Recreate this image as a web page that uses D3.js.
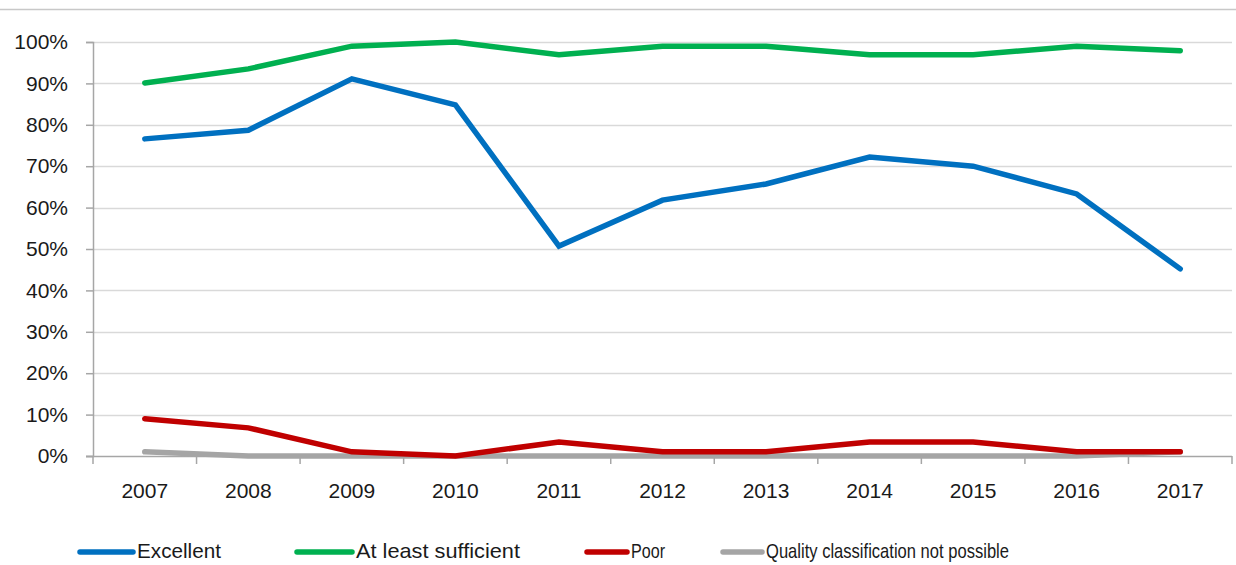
<!DOCTYPE html>
<html>
<head>
<meta charset="utf-8">
<script src="https://cdn.jsdelivr.net/npm/d3@7"></script>
<style>
  body { margin: 0; background: #fff; }
  svg { display: block; font-family: "Liberation Sans", Arial, sans-serif; }
</style>
</head>
<body>
<script>
// data
const years = ["2007", "2008", "2009", "2010", "2011", "2012", "2013", "2014", "2015", "2016", "2017"];
const excellent = [76.6, 78.7, 91.1, 84.8, 50.7, 61.8, 65.7, 72.2, 70.0, 63.3, 45.2];
const sufficient = [90.1, 93.5, 99.0, 100, 96.9, 99.0, 99.0, 96.9, 96.9, 99.0, 97.9];
const poor = [9.0, 6.8, 1.0, 0, 3.4, 1.0, 1.0, 3.4, 3.4, 1.0, 1.0];
const notPossible = [1.0, 0, 0, 0, 0, 0, 0, 0, 0, 0, 1.0];
const seriesNames = ["Excellent", "At least sufficient", "Poor", "Quality classification not possible"];
const seriesColors = ["#0070c0", "#00b050", "#c00000", "#a5a5a5"];
const yTicks = [0, 10, 20, 30, 40, 50, 60, 70, 80, 90, 100];

const series = [excellent, sufficient, poor, notPossible].map((values, i) => ({
  name: seriesNames[i], values: values, color: seriesColors[i]
}));

const width = 1236, height = 565;
const margin = { left: 93, right: 4, top: 42, bottom: 109 };

const svg = d3.select("body").append("svg")
  .attr("width", width)
  .attr("height", height);

// thin frame line at top (the chart is cropped there)
svg.append("line")
  .attr("x1", 0).attr("x2", width)
  .attr("y1", 9.5).attr("y2", 9.5)
  .attr("stroke", "#c8c8c8").attr("stroke-width", 1.5);

const x = d3.scaleBand()
  .domain(years)
  .range([margin.left, width - margin.right]);

const y = d3.scaleLinear()
  .domain([0, 100])
  .range([height - margin.bottom, margin.top]);

// gridlines
svg.append("g")
  .selectAll("line")
  .data(yTicks.filter(d => d > 0))
  .join("line")
  .attr("x1", margin.left).attr("x2", width - margin.right)
  .attr("y1", d => Math.round(y(d)) + 0.5).attr("y2", d => Math.round(y(d)) + 0.5)
  .attr("stroke", "#d9d9d9").attr("stroke-width", 1.5);

// y axis
const yAxis = svg.append("g")
  .attr("transform", `translate(${margin.left},0)`)
  .call(d3.axisLeft(y).tickValues(yTicks).tickFormat(d => d + "%").tickSize(7).tickPadding(18));
yAxis.select(".domain").attr("stroke", "#a6a6a6").attr("stroke-width", 1.5);
yAxis.selectAll(".tick line").attr("stroke", "#a6a6a6").attr("stroke-width", 1.5);
yAxis.selectAll(".tick text").attr("font-size", 21).attr("fill", "#1a1a1a")
  .attr("font-family", "Liberation Sans, Arial, sans-serif");

// x axis
const xAxis = svg.append("g")
  .attr("transform", `translate(0,${Math.round(y(0)) + 0.5})`)
  .call(d3.axisBottom(x).tickSize(0).tickPadding(27));
xAxis.select(".domain").attr("stroke", "#a6a6a6").attr("stroke-width", 1.5)
  .attr("d", `M${margin.left - 7},0H${width - margin.right}`);
xAxis.selectAll(".tick text").attr("font-size", 21).attr("fill", "#1a1a1a")
  .attr("font-family", "Liberation Sans, Arial, sans-serif");

// x tick marks at category boundaries
svg.append("g")
  .selectAll("line")
  .data(d3.range(years.length + 1))
  .join("line")
  .attr("x1", i => margin.left + i * x.step())
  .attr("x2", i => margin.left + i * x.step())
  .attr("y1", y(0)).attr("y2", y(0) + 8)
  .attr("stroke", "#a6a6a6").attr("stroke-width", 1.5);

// lines
const line = d3.line()
  .x((d, i) => x(years[i]) + x.bandwidth() / 2)
  .y(d => y(d));

svg.append("g")
  .selectAll("path")
  .data(series.slice().reverse())
  .join("path")
  .attr("d", d => line(d.values))
  .attr("fill", "none")
  .attr("stroke", d => d.color)
  .attr("stroke-width", 5.5)
  .attr("stroke-linecap", "round")
  .attr("stroke-linejoin", "miter");

// legend (Excel-style, line swatch then label)
const legendPos = [
  { lx: 80, lw: 53, tw: 84 },
  { lx: 297, lw: 55, tw: 164 },
  { lx: 587, lw: 40, tw: 34 },
  { lx: 723, lw: 39, tw: 243 }
];

const item = svg.append("g")
  .selectAll("g")
  .data(series)
  .join("g");

item.append("line")
  .attr("x1", (d, i) => legendPos[i].lx)
  .attr("x2", (d, i) => legendPos[i].lx + legendPos[i].lw)
  .attr("y1", 552).attr("y2", 552)
  .attr("stroke", d => d.color)
  .attr("stroke-width", 5.5)
  .attr("stroke-linecap", "round");

item.append("text")
  .attr("x", (d, i) => legendPos[i].lx + legendPos[i].lw + 4)
  .attr("y", 558)
  .attr("font-size", 21)
  .attr("textLength", (d, i) => legendPos[i].tw)
  .attr("lengthAdjust", "spacingAndGlyphs")
  .attr("fill", "#1a1a1a")
  .text(d => d.name);
</script>
</body>
</html>
